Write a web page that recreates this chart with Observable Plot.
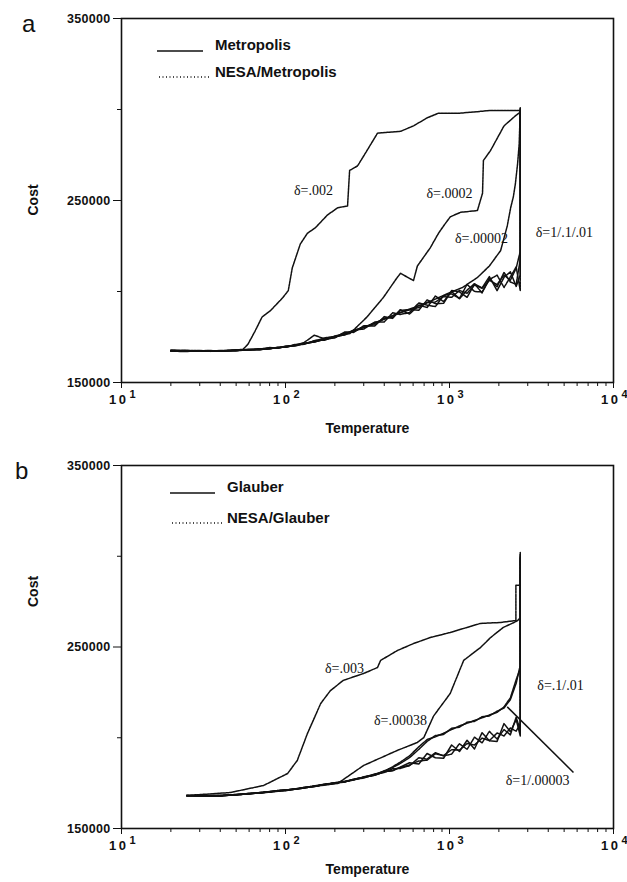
<!DOCTYPE html>
<html>
<head>
<meta charset="utf-8">
<script src="https://cdn.jsdelivr.net/npm/d3@7"></script>
<script src="https://cdn.jsdelivr.net/npm/@observablehq/plot@0.6"></script>
<style>
  body { margin: 0; background: #fff; }
  #fig { position: relative; width: 627px; height: 882px; background: #fff; }
  #fig svg { display: block; position: absolute; left: 0; }
  .tag { position: absolute; font: 24px "Liberation Sans", Arial, sans-serif; color: #111; }
  svg [aria-label="y-axis tick label"] text { font: bold 12.5px "Liberation Sans", Arial, sans-serif; letter-spacing: 0.3px; }
</style>
</head>
<body>
<div id="fig"></div>
<script>
// ---------- common axis values ----------
const costTicks = [150000, 250000, 350000];
const costMinor = [200000, 300000];
const decades = [10, 100, 1000, 10000];
const tempMinor = [20, 30, 40, 50, 60, 70, 80, 90, 200, 300, 400, 500, 600, 700, 800, 900,
                   2000, 3000, 4000, 5000, 6000, 7000, 8000, 9000];

// ---------- panel a: Metropolis / NESA-Metropolis ----------
// shared temperature grid of the bundled runs (last point = starting state)
const tempA = [20, 25, 30, 35, 40, 50, 60, 70, 80, 90, 100, 115, 130, 150, 175, 200, 230, 260, 300, 350,
               400, 450, 500, 570, 650, 730, 820, 920, 1030, 1150, 1280, 1420, 1580, 1750, 1950, 2150,
               2350, 2550, 2700, 2700];
const metropolisA = [167800, 167500, 167200, 167400, 167300, 167700, 168200, 168100, 168900, 169000,
                     169800, 170100, 171500, 172200, 174200, 175000, 177300, 177900, 180600, 181800,
                     185500, 185700, 189500, 190100, 189700, 195400, 193300, 193500, 200500, 199800,
                     196800, 204100, 202000, 208200, 200500, 207800, 210800, 202800, 209100, 300500];
const nesaA_1 = [167200, 167000, 167500, 167100, 167600, 167400, 168000, 168600, 168400, 169400,
                 169300, 170600, 171000, 173000, 173300, 175600, 176400, 178800, 179400, 183200,
                 183300, 188300, 187400, 188400, 193700, 192500, 191700, 197800, 198700, 196200,
                 203900, 200000, 199800, 206500, 209000, 202200, 208000, 213500, 200500, 299200];
const nesaA_01 = [167500, 167700, 167400, 167600, 167200, 168000, 167800, 168400, 169200, 168800,
                  170000, 170400, 172000, 176000, 173800, 174500, 177800, 177500, 181200, 181000,
                  186200, 185200, 190000, 187600, 192500, 191200, 197500, 194500, 200000, 196000,
                  200800, 204300, 199200, 207200, 202500, 210500, 205200, 204000, 217500, 301000];
const nesaA_001 = [167600, 167300, 167600, 167200, 167500, 167500, 168300, 168000, 168700, 169200,
                   169600, 170900, 171300, 172800, 174600, 175300, 176200, 178600, 180200, 182600,
                   184800, 186600, 188300, 189900, 191200, 193800, 194200, 197200, 196800, 200600,
                   199000, 203600, 201800, 206200, 203800, 209000, 206200, 212800, 222000, 300000];

const tempA_00002 = [20, 40, 70, 100, 150, 200, 300, 400, 500, 650, 800, 1000, 1200, 1480, 1750, 2050,
                     2250, 2360, 2450, 2520, 2600, 2660, 2700];
const costA_00002 = [167300, 167200, 168200, 169600, 172400, 175000, 180300, 184900, 188400, 192200,
                     195400, 199300, 202200, 207700, 214000, 222500, 236000, 246000, 252000, 259000,
                     270000, 281000, 299000];

const tempA_0002 = [20, 40, 70, 100, 150, 200, 248, 314, 395, 480, 503, 550, 603, 637, 763, 857, 920,
                    1010, 1167, 1480, 1590, 1610, 1780, 2150, 2520, 2700];
const costA_0002 = [167400, 167300, 168100, 169500, 172300, 175000, 177000, 186000, 196700, 207700,
                    210000, 208000, 206000, 214000, 224000, 232000, 236000, 241000, 243500, 244500,
                    254000, 272000, 277500, 291000, 296500, 298500];

const tempA_002 = [20, 40, 55, 59, 65, 72, 81, 96, 104, 110, 123, 136, 152, 180, 208, 239, 246, 275,
                   307, 364, 419, 503, 603, 734, 857, 1167, 1800, 2700];
const costA_002 = [167500, 167300, 168200, 171000, 178000, 186000, 189500, 196500, 200500, 213000,
                   226000, 232000, 235000, 242000, 246000, 247000, 266500, 269000, 276000, 287000,
                   287500, 288000, 291000, 295500, 298000, 298000, 299500, 299500];

// ---------- panel b: Glauber / NESA-Glauber ----------
const tempB = [25, 30, 35, 40, 50, 60, 70, 80, 90, 100, 115, 130, 150, 175, 200, 230, 260, 300, 350,
               400, 450, 500, 570, 650, 730, 820, 920, 1030, 1150, 1280, 1420, 1580, 1750, 1950, 2150,
               2350, 2550, 2700, 2700];
const glauberB = [168200, 168000, 167700, 168100, 168600, 169300, 169600, 170300, 170600, 171200,
                  171700, 172600, 173200, 174400, 174900, 175900, 176700, 178200, 179300, 181300,
                  182000, 183800, 186200, 185500, 191300, 189000, 188700, 196000, 192400, 198600,
                  193800, 202800, 198300, 198000, 207800, 203300, 210000, 201000, 302000];
const nesaB_1 = [168000, 168100, 167900, 167800, 168800, 169100, 169800, 170100, 170800, 171000,
                 171900, 172400, 173500, 174200, 175200, 175700, 177000, 177800, 179800, 180900,
                 182900, 183100, 184600, 189000, 188200, 191800, 190000, 191000, 196700, 193600,
                 200300, 197200, 203500, 199300, 204500, 201600, 211300, 204200, 298000];
const nesaB_00003 = [168300, 167900, 167800, 168200, 168500, 169400, 169500, 170200, 170900, 171300,
                     171600, 172700, 173100, 174300, 175100, 175600, 177200, 178100, 179400, 181300,
                     181800, 183600, 185000, 187200, 187600, 191200, 190200, 193400, 193200, 196800,
                     196000, 199800, 198400, 202600, 201000, 205400, 203600, 207800, 300000];
const nesaB_01 = [168100, 167900, 167900, 168000, 168700, 169200, 169700, 170400, 170700, 171100,
                  171800, 172500, 173400, 174300, 175000, 176000, 177000, 178300, 180000, 181500,
                  184000, 186500, 190000, 195000, 199000, 200500, 202500, 204500, 206500, 208000,
                  209500, 211000, 212500, 214000, 217000, 222000, 232000, 238000, 301000];
const nesaB_001 = [168000, 168200, 167800, 168000, 168600, 169000, 169900, 170200, 170900, 171300,
                   171600, 172300, 173300, 174500, 175200, 175800, 176800, 178500, 179600, 181800,
                   183600, 185800, 189000, 193600, 198000, 201200, 201800, 205200, 205800, 208600,
                   209000, 211600, 212000, 214600, 216400, 221000, 230000, 240000, 299000];

const tempB_00038 = [25, 50, 100, 150, 208, 299, 480, 637, 697, 800, 1010, 1220, 1545, 1780, 2120,
                     2470, 2600, 2700, 2700];
const costB_00038 = [168000, 168500, 170800, 173200, 174800, 184700, 193000, 197400, 200100, 212000,
                     224400, 242600, 249700, 255200, 260700, 263500, 264600, 266000, 290000];

const tempB_003 = [25, 46, 73.5, 103, 118, 136, 164, 188, 225, 299, 364, 380, 482, 603, 763, 1010,
                   1545, 2050, 2540, 2540, 2700];
const costB_003 = [168200, 169800, 173700, 180300, 187500, 202300, 218900, 226000, 231600, 235400,
                   238700, 242600, 248100, 251900, 255200, 258000, 263000, 263500, 264600, 284000, 284000];

// ---------- curve labels ----------
const labelsA = [
  {T: 148, C: 255500, text: "δ=.002", anchor: "middle"},
  {T: 1000, C: 253800, text: "δ=.0002", anchor: "middle"},
  {T: 1567, C: 229100, text: "δ=.00002", anchor: "middle"},
  {T: 5020, C: 232400, text: "δ=1/.1/.01", anchor: "middle"}
];
const labelsB = [
  {T: 229, C: 238200, text: "δ=.003", anchor: "middle"},
  {T: 502, C: 209500, text: "δ=.00038", anchor: "middle"},
  {T: 4750, C: 228800, text: "δ=.1/.01", anchor: "middle"},
  {T: 3445, C: 176400, text: "δ=1/.00003", anchor: "start"}
];
const pointerB = [{T1: 2250, C1: 217000, T2: 5700, C2: 180900}];

function series(name, temps, costs, dotted) {
  return temps.map((T, i) => ({name, T, C: costs[i], dotted}));
}

const sans = "Liberation Sans";

function panel({rows, labels, pointer, height, marginTop, marginBottom, legend, costShift, tempShift}) {
  const solid = rows.filter(d => !d.dotted);
  const dotted = rows.filter(d => d.dotted);
  const marks = [
    Plot.line(dotted, {x: "T", y: "C", z: "name", stroke: "#111", strokeWidth: 1.5, strokeDasharray: "2.5,0.8"}),
    Plot.line(solid, {x: "T", y: "C", z: "name", stroke: "#111", strokeWidth: 1.5}),
    Plot.frame({stroke: "#111", strokeWidth: 1.6}),
    Plot.axisY({ticks: costTicks, tickSize: 8, tickPadding: 3, tickFormat: d => String(d), label: null}),
    Plot.axisY({ticks: costMinor, tickSize: 4, tickFormat: () => "", label: null}),
    Plot.axisX({ticks: tempMinor, tickSize: 4, tickFormat: () => "", label: null}),
    Plot.axisX({ticks: decades, tickSize: 6, tickFormat: () => "", label: null}),
    // decade labels written as 10 with a raised exponent
    Plot.text(decades, {x: d => d, frameAnchor: "bottom", dy: 21, dx: -4, text: () => "1\u20090",
                        fontSize: 13, fontFamily: sans, fontWeight: "bold"}),
    Plot.text(decades, {x: d => d, frameAnchor: "bottom", dy: 15, dx: 11, text: d => String(Math.log10(d)),
                        fontSize: 11, fontFamily: sans, fontWeight: "bold"}),
    // axis titles
    Plot.text(["Temperature"], {frameAnchor: "bottom", dy: tempShift, fontSize: 14, fontFamily: sans, fontWeight: "bold"}),
    Plot.text(["Cost"], {frameAnchor: "left", dx: -88, dy: costShift, rotate: -90, fontSize: 14, fontFamily: sans, fontWeight: "bold"}),
    // curve annotations
    Plot.text(labels, {x: "T", y: "C", text: "text", textAnchor: d => d.anchor,
                       fontSize: 14, fontFamily: "Liberation Serif", fill: "#111"})
  ];
  if (pointer) marks.push(Plot.link(pointer, {x1: "T1", y1: "C1", x2: "T2", y2: "C2", stroke: "#111", strokeWidth: 1.5}));
  const svg = Plot.plot({
    width: 627, height, marginLeft: 121, marginRight: 14, marginTop, marginBottom,
    style: {fontFamily: sans, color: "#111", background: "#fff"},
    x: {type: "log", domain: [10, 10000]},
    y: {domain: [150000, 350000]},
    marks
  });
  // legend inside the frame
  const g = d3.select(svg).append("g").attr("font-family", sans).attr("font-weight", "bold")
    .attr("font-size", 15).attr("fill", "#111").attr("text-anchor", "start");
  g.append("line").attr("x1", legend.x0).attr("x2", legend.x1).attr("y1", legend.y0).attr("y2", legend.y0)
    .attr("stroke", "#111").attr("stroke-width", 1.3);
  g.append("text").attr("x", legend.tx).attr("y", legend.y0 - 1).text(legend.solid);
  g.append("line").attr("x1", legend.x0 + 2).attr("x2", legend.x1 + 8).attr("y1", legend.y1).attr("y2", legend.y1)
    .attr("stroke", "#111").attr("stroke-width", 1.3).attr("stroke-dasharray", "1,2.5");
  g.append("text").attr("x", legend.tx).attr("y", legend.y1).text(legend.dotted);
  return svg;
}

const rowsA = [
  ...series("Metropolis", tempA, metropolisA, false),
  ...series("NESA δ=1", tempA, nesaA_1, true),
  ...series("NESA δ=.1", tempA, nesaA_01, true),
  ...series("NESA δ=.01", tempA, nesaA_001, true),
  ...series("NESA δ=.00002", tempA_00002, costA_00002, true),
  ...series("NESA δ=.0002", tempA_0002, costA_0002, true),
  ...series("NESA δ=.002", tempA_002, costA_002, true)
];
const rowsB = [
  ...series("Glauber", tempB, glauberB, false),
  ...series("NESA δ=1", tempB, nesaB_1, true),
  ...series("NESA δ=.00003", tempB, nesaB_00003, true),
  ...series("NESA δ=.1", tempB, nesaB_01, true),
  ...series("NESA δ=.01", tempB, nesaB_001, true),
  ...series("NESA δ=.00038", tempB_00038, costB_00038, true),
  ...series("NESA δ=.003", tempB_003, costB_003, true)
];

const fig = document.getElementById("fig");
const svgA = panel({rows: rowsA, labels: labelsA, height: 442, marginTop: 18, marginBottom: 60,
  costShift: 15, tempShift: 50,
  legend: {x0: 157, x1: 203, tx: 215, y0: 51, y1: 77, solid: "Metropolis", dotted: "NESA/Metropolis"}});
svgA.style.top = "0px";
fig.appendChild(svgA);

const svgB = panel({rows: rowsB, labels: labelsB, pointer: pointerB, height: 440, marginTop: 23, marginBottom: 54,
  costShift: -40, tempShift: 45,
  legend: {x0: 170, x1: 215, tx: 227, y0: 51, y1: 81, solid: "Glauber", dotted: "NESA/Glauber"}});
svgB.style.top = "442px";
fig.appendChild(svgB);

// panel tags
for (const [t, x, y] of [["a", 22, 10], ["b", 15, 457]]) {
  const d = document.createElement("div");
  d.className = "tag"; d.textContent = t; d.style.left = x + "px"; d.style.top = y + "px";
  fig.appendChild(d);
}
</script>
</body>
</html>
